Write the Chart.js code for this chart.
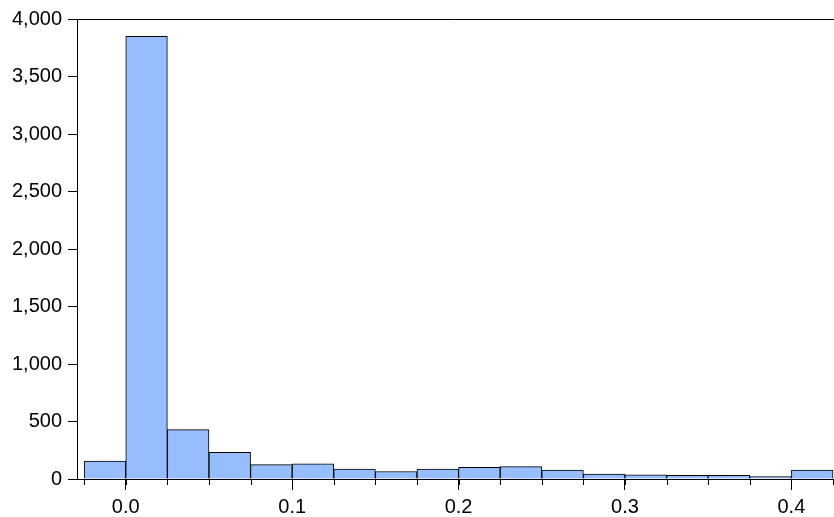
<!DOCTYPE html>
<html>
<head>
<meta charset="utf-8">
<script src="https://cdn.jsdelivr.net/npm/chart.js@4/dist/chart.umd.min.js"></script>
<style>
  html, body { margin: 0; padding: 0; background: #ffffff; }
  #wrap { width: 834px; height: 517px; position: relative; }
</style>
</head>
<body>
<div id="wrap"><canvas id="c" width="834" height="517"></canvas></div>
<script>
// Histogram bins (lower edge) and frequencies
const binLower = [-0.025, 0.0, 0.025, 0.05, 0.075, 0.1, 0.125, 0.15, 0.175, 0.2, 0.225, 0.25, 0.275, 0.3, 0.325, 0.35, 0.375, 0.4];
const binWidth = 0.025;
const counts   = [155, 3850, 430, 232, 125, 133, 87, 65, 87, 102, 108, 77, 43, 37, 31, 31, 22, 77];
const xTickValues = [0.0, 0.1, 0.2, 0.3, 0.4];
const yTickValues = [0, 500, 1000, 1500, 2000, 2500, 3000, 3500, 4000];

const points = binLower.map((lo, i) => ({ x: lo + binWidth / 2, y: counts[i] }));

const FONT = { family: '"Liberation Sans", Arial, sans-serif', size: 20 };

const framePlugin = {
  id: 'frame',
  afterDraw(chart) {
    const ctx = chart.ctx;
    const ca = chart.chartArea;
    const xs = chart.scales.x;
    ctx.save();
    ctx.strokeStyle = '#000';
    ctx.lineWidth = 1;
    // top border
    const ty = Math.round(ca.top) + 0.5;
    ctx.beginPath();
    ctx.moveTo(Math.round(ca.left), ty);
    ctx.lineTo(ca.right, ty);
    ctx.stroke();
    // minor ticks at bin edges
    const by = Math.round(ca.bottom);
    ctx.beginPath();
    for (let i = 0; i <= binLower.length; i++) {
      const v = i < binLower.length ? binLower[i] : binLower[binLower.length - 1] + binWidth;
      const px = Math.round(xs.getPixelForValue(v)) + 0.5;
      ctx.moveTo(px, by);
      ctx.lineTo(px, by + 6);
    }
    ctx.stroke();
    ctx.restore();
  }
};

new Chart(document.getElementById('c'), {
  type: 'bar',
  data: {
    datasets: [{
      data: points,
      backgroundColor: '#96BEFE',
      borderColor: '#000000',
      borderWidth: 1,
      barPercentage: 1.0,
      categoryPercentage: 1.0
    }]
  },
  options: {
    responsive: false,
    animation: false,
    devicePixelRatio: 1,
    layout: { padding: { top: 19, right: 0, left: 0, bottom: 0 } },
    plugins: { legend: { display: false }, tooltip: { enabled: false } },
    scales: {
      x: {
        type: 'linear',
        offset: false,
        min: -0.0293,
        max: 0.4256,
        afterBuildTicks(scale) { scale.ticks = xTickValues.map(v => ({ value: v })); },
        afterFit(scale) { scale.height = 38; },
        ticks: {
          font: FONT,
          color: '#000',
          padding: 5,
          maxRotation: 0,
          autoSkip: false,
          callback: (v) => Number(v).toFixed(1)
        },
        grid: { offset: false, drawOnChartArea: false, drawTicks: true, tickLength: 11, color: '#000', tickColor: '#000' },
        border: { display: true, color: '#000', width: 1 }
      },
      y: {
        type: 'linear',
        min: 0,
        max: 4000,
        afterBuildTicks(scale) { scale.ticks = yTickValues.map(v => ({ value: v })); },
        afterFit(scale) { scale.width = 77; },
        ticks: {
          font: FONT,
          color: '#000',
          padding: 6,
          callback: (v) => Number(v).toLocaleString('en-US')
        },
        grid: { drawOnChartArea: false, drawTicks: true, tickLength: 9, color: '#000', tickColor: '#000' },
        border: { display: true, color: '#000', width: 1 }
      }
    }
  },
  plugins: [framePlugin]
});
</script>
</body>
</html>
